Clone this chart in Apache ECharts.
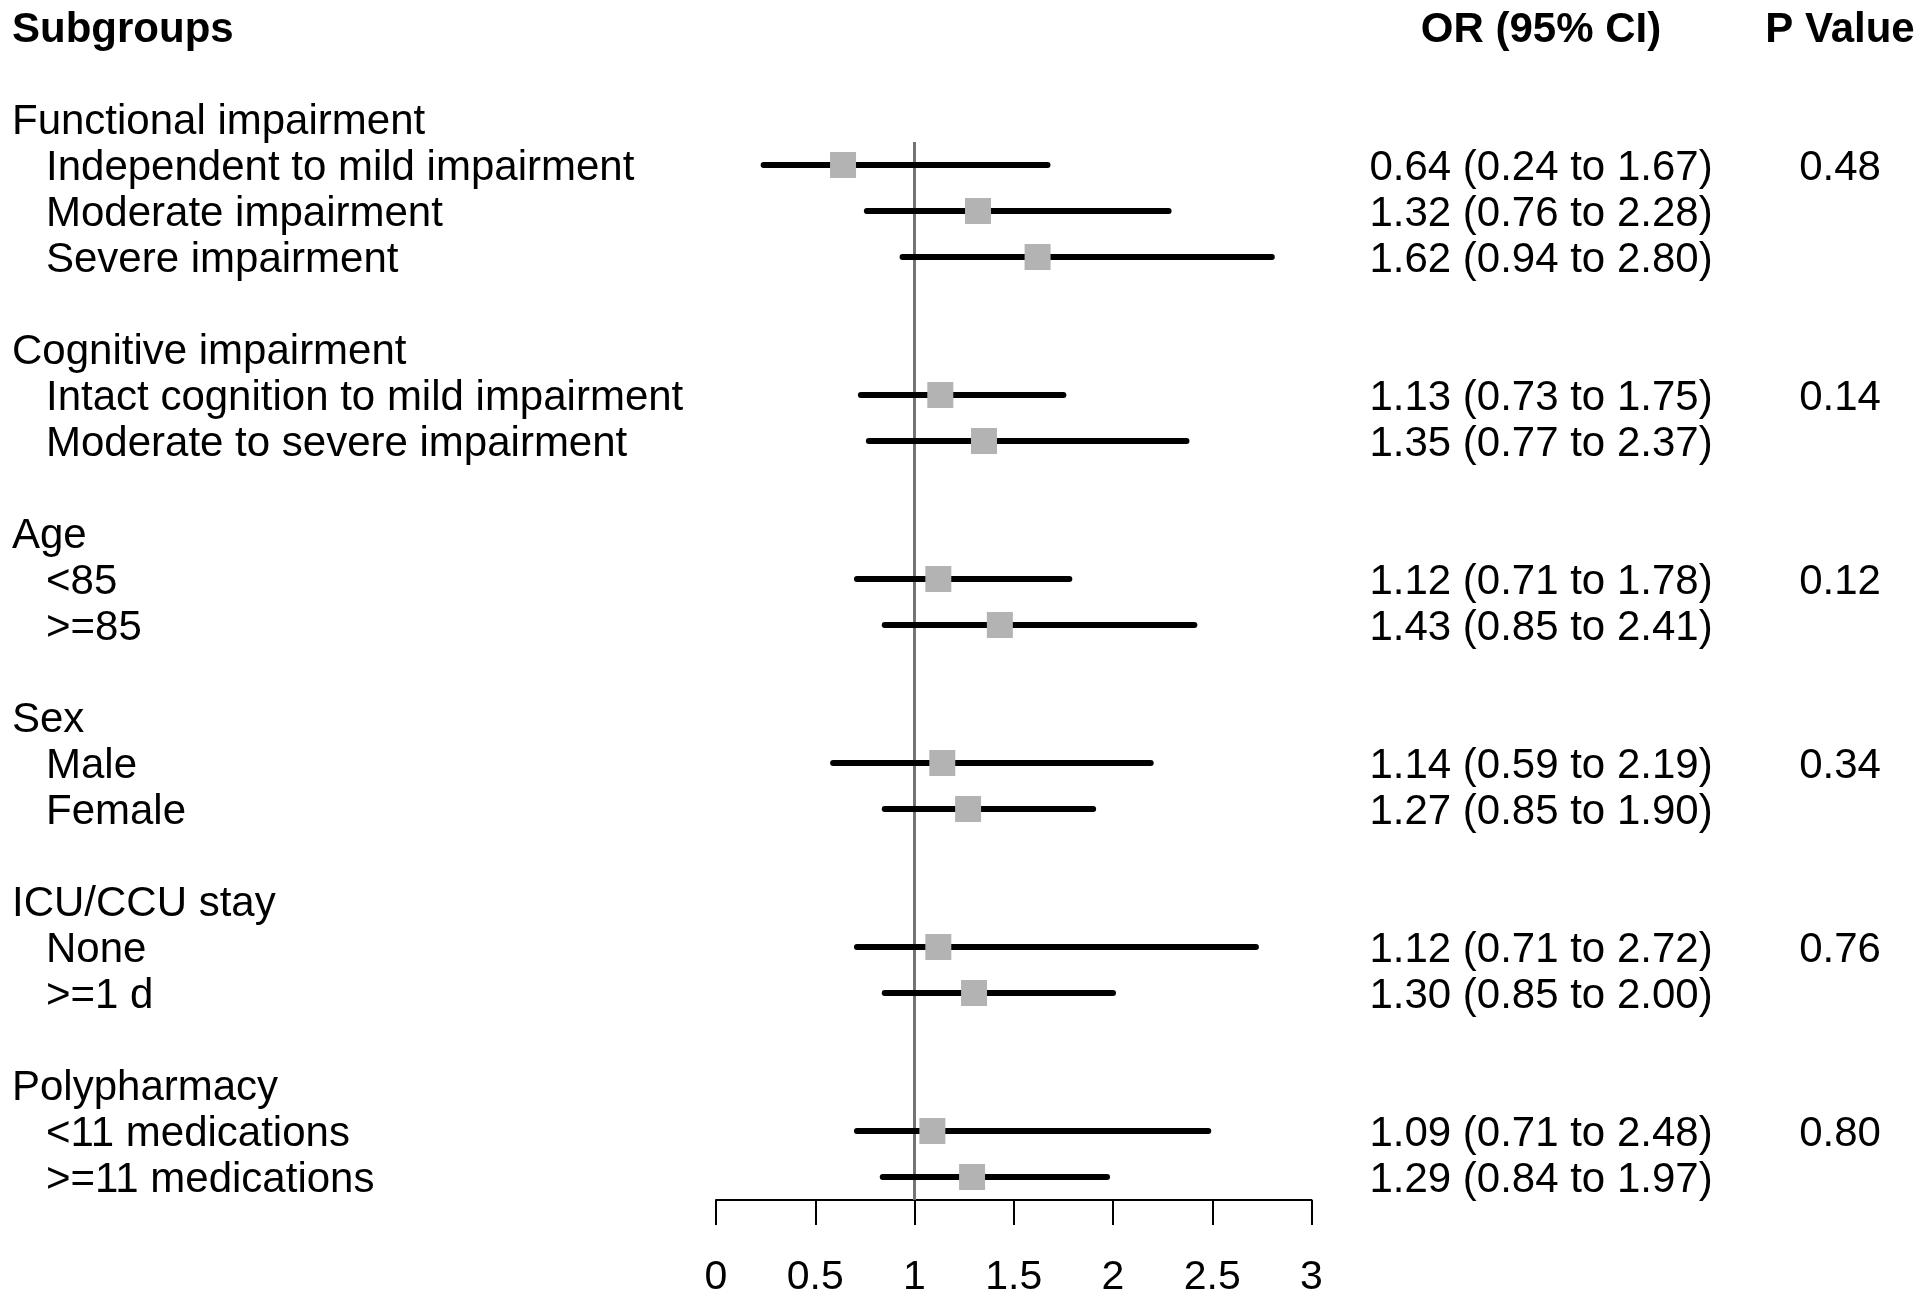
<!DOCTYPE html>
<html>
<head>
<meta charset="utf-8">
<script src="https://cdn.jsdelivr.net/npm/echarts@6/dist/echarts.min.js"></script>
<style>
html,body{margin:0;padding:0;background:#fff;}
#chart{width:1920px;height:1300px;}
</style>
</head>
<body>
<div id="chart"></div>
<script>
// ---- data ----
const groups = ["Functional impairment", "Cognitive impairment", "Age", "Sex", "ICU/CCU stay", "Polypharmacy"];
const subgroups = [
  ["Independent to mild impairment", "Moderate impairment", "Severe impairment"],
  ["Intact cognition to mild impairment", "Moderate to severe impairment"],
  ["<85", ">=85"],
  ["Male", "Female"],
  ["None", ">=1 d"],
  ["<11 medications", ">=11 medications"]
];
const orValues = [[0.64, 1.32, 1.62], [1.13, 1.35], [1.12, 1.43], [1.14, 1.27], [1.12, 1.30], [1.09, 1.29]];
const ciLower  = [[0.24, 0.76, 0.94], [0.73, 0.77], [0.71, 0.85], [0.59, 0.85], [0.71, 0.85], [0.71, 0.84]];
const ciUpper  = [[1.67, 2.28, 2.80], [1.75, 2.37], [1.78, 2.41], [2.19, 1.90], [2.72, 2.00], [2.48, 1.97]];
const pValues = ["0.48", "0.14", "0.12", "0.34", "0.76", "0.80"];
const headers = ["Subgroups", "OR (95% CI)", "P Value"];
const xTicks = [0, 0.5, 1, 1.5, 2, 2.5, 3];
const refValue = 1;

// ---- build rows ----
const leftText = [], orText = [], pText = [], rowType = [];
const points = [], cis = [];
function addRow(l, o, p, t) { leftText.push(l); orText.push(o); pText.push(p); rowType.push(t); return leftText.length - 1; }
addRow(headers[0], headers[1], headers[2], 'h');
addRow('', '', '', 'b');
let firstDataRow = null;
groups.forEach((g, gi) => {
  addRow(g, '', '', 'g');
  subgroups[gi].forEach((s, si) => {
    const o = orValues[gi][si], lo = ciLower[gi][si], hi = ciUpper[gi][si];
    const txt = o.toFixed(2) + ' (' + lo.toFixed(2) + ' to ' + hi.toFixed(2) + ')';
    const r = addRow(s, txt, si === 0 ? pValues[gi] : '', 's');
    if (firstDataRow === null) firstDataRow = r;
    points.push([o, r]);
    cis.push([lo, hi, r]);
  });
  if (gi < groups.length - 1) addRow('', '', '', 'b');
});
const nRows = leftText.length;
const cats = leftText.map((_, i) => String(i));

const FONT = '"Liberation Sans", Arial, Helvetica, sans-serif';
const FS = 42;
const gridLeft = 716, gridRight = 1920 - 1311.5, gridTop = 4, gridHeight = 1196;

function richFmt(arr) {
  return function (v, i) {
    const t = arr[i];
    if (!t) return '';
    return '{' + rowType[i] + '|' + t + '}';
  };
}
const PT = 6;
const rich = {
  h: { fontFamily: FONT, fontSize: FS, fontWeight: 'bold', color: '#000', padding: [PT, 0, 0, 0] },
  g: { fontFamily: FONT, fontSize: FS, color: '#000', padding: [PT, 0, 0, 0] },
  s: { fontFamily: FONT, fontSize: FS, color: '#000', padding: [PT, 0, 0, 0] },
  b: { fontFamily: FONT, fontSize: FS, color: '#000' }
};
const richLeft = Object.assign({}, rich, { s: { fontFamily: FONT, fontSize: FS, color: '#000', padding: [PT, 0, 0, 34] } });

function catAxis(position, fmt, align, margin, r) {
  return {
    type: 'category', data: cats, inverse: true, position: position,
    gridIndex: 0,
    axisLine: { show: false }, axisTick: { show: false }, splitLine: { show: false },
    axisLabel: { interval: 0, formatter: fmt, align: align, margin: margin, rich: r, verticalAlign: 'middle' }
  };
}

const chart = echarts.init(document.getElementById('chart'), null, { renderer: 'canvas' });
chart.setOption({
  backgroundColor: '#fff',
  animation: false,
  grid: { left: gridLeft, right: gridRight, top: gridTop, height: gridHeight, containLabel: false },
  xAxis: {
    type: 'value', position: 'bottom', min: xTicks[0], max: xTicks[xTicks.length - 1], interval: 0.5,
    axisLine: { show: true, onZero: false, lineStyle: { color: '#000', width: 2 } },
    axisTick: { show: true, inside: false, length: 25, lineStyle: { color: '#000', width: 2 } },
    splitLine: { show: false },
    axisLabel: { fontFamily: FONT, fontSize: 41, color: '#000', margin: 57,
      formatter: v => String(v) }
  },
  yAxis: [
    { type: 'value', inverse: true, min: -0.5, max: nRows - 0.5, show: false },
    catAxis('left', richFmt(leftText), 'left', gridLeft - 12, richLeft),
    catAxis('right', richFmt(orText), 'center', 1541 - 1311.5, rich),
    catAxis('right', richFmt(pText), 'center', 1840 - 1311.5, rich)
  ],
  series: [
    {
      type: 'line', yAxisIndex: 0, z: 1, symbol: 'none', silent: true,
      lineStyle: { color: '#747474', width: 3 },
      data: [[refValue, firstDataRow - 0.5], [refValue, nRows - 0.5]]
    },
    {
      type: 'custom', yAxisIndex: 0, z: 2, silent: true,
      encode: { x: [0, 1], y: 2 },
      data: cis,
      renderItem: function (params, api) {
        const a = api.coord([api.value(0), api.value(2)]);
        const b = api.coord([api.value(1), api.value(2)]);
        return { type: 'line', shape: { x1: a[0], y1: a[1], x2: b[0], y2: b[1] },
          style: { stroke: '#000', lineWidth: 6, lineCap: 'round' } };
      }
    },
    {
      type: 'scatter', yAxisIndex: 0, z: 3, silent: true,
      symbol: 'rect', symbolSize: 26,
      itemStyle: { color: '#b3b3b3', opacity: 1 },
      data: points
    }
  ]
});
</script>
</body>
</html>
